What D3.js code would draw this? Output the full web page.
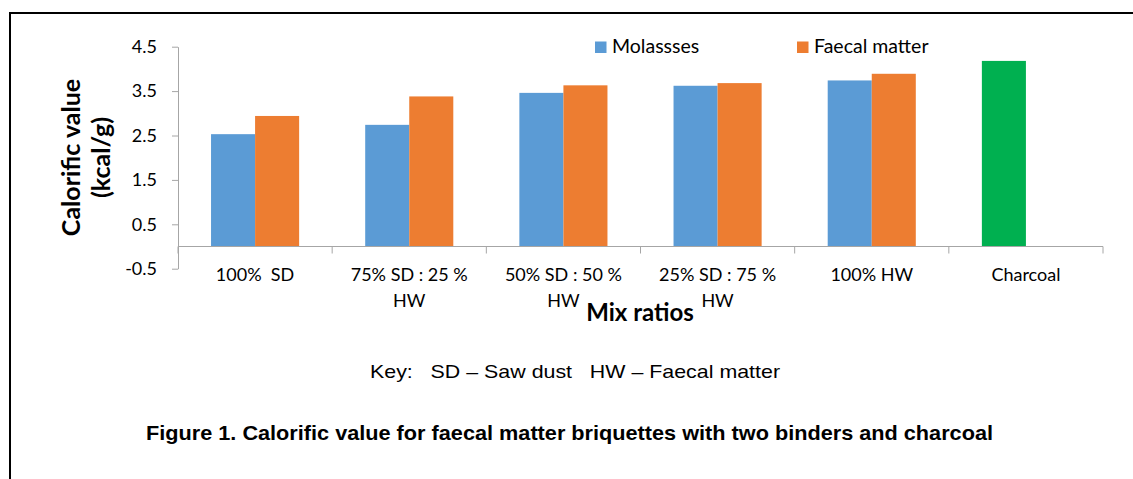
<!DOCTYPE html>
<html>
<head>
<meta charset="utf-8">
<script src="https://cdn.jsdelivr.net/npm/d3@7/dist/d3.min.js"></script>
<style>
  html, body { margin: 0; padding: 0; background: #fff; }
  svg { display: block; }
</style>
</head>
<body>
<svg id="chart" width="1133" height="479"></svg>
<script>
// ---- data ----
const categories = [["100%  SD"], ["75% SD : 25 %", "HW"], ["50% SD : 50 %", "HW"], ["25% SD : 75 %", "HW"], ["100% HW"], ["Charcoal"]];
const seriesNames = ["Molassses", "Faecal matter"];
const molasses = [2.53, 2.74, 3.46, 3.62, 3.74, null];
const faecal = [2.94, 3.38, 3.63, 3.68, 3.89, null];
const charcoal = [null, null, null, null, null, 4.18];
const yTicks = [-0.5, 0.5, 1.5, 2.5, 3.5, 4.5];
const colors = ["#5B9BD5", "#ED7D31"];
const charcoalColor = "#00B050";

const svg = d3.select("#chart");
const chartFont = "Lato, 'Open Sans', sans-serif";
const arial = "'Liberation Sans', Arial, sans-serif";

// border lines
svg.append("line").attr("x1", 10).attr("x2", 1133).attr("y1", 13).attr("y2", 13).attr("stroke", "#000").attr("stroke-width", 2);
svg.append("line").attr("x1", 10).attr("x2", 10).attr("y1", 12).attr("y2", 479).attr("stroke", "#000").attr("stroke-width", 2);

const x0 = d3.scaleBand().domain(d3.range(categories.length)).range([178, 1103]).padding(0);
const x1 = d3.scaleBand().domain([0, 1]).range([0, x0.bandwidth()]).paddingInner(0).paddingOuter(0.75);
const y = d3.scaleLinear().domain([-0.5, 4.5]).range([268.7, 46.7]);

const axisColor = "#a6a6a6";

// y axis
const yAxis = svg.append("g").attr("transform", "translate(178,0)")
  .call(d3.axisLeft(y).tickValues(yTicks).tickSize(6).tickSizeOuter(0).tickFormat(d => d.toFixed(1)));
yAxis.select(".domain").attr("stroke", axisColor);
yAxis.selectAll(".tick line").attr("stroke", axisColor);
yAxis.selectAll(".tick text").attr("font-family", chartFont).attr("font-size", 18).attr("fill", "#000").attr("x", -21);

// bars
const groups = svg.append("g");
const seriesData = [molasses, faecal];
seriesData.forEach((vals, si) => {
  groups.selectAll(".s" + si).data(vals.map((v, i) => ({v, i})).filter(d => d.v != null))
    .enter().append("rect")
    .attr("x", d => x0(d.i) + x1(si))
    .attr("width", x1.bandwidth())
    .attr("y", d => y(d.v))
    .attr("height", d => y(0) - y(d.v))
    .attr("fill", colors[si]);
});
groups.selectAll(".ch").data(charcoal.map((v, i) => ({v, i})).filter(d => d.v != null))
  .enter().append("rect")
  .attr("x", d => x0(d.i) + x1(0))
  .attr("width", x1.bandwidth())
  .attr("y", d => y(d.v))
  .attr("height", d => y(0) - y(d.v))
  .attr("fill", charcoalColor);

// x axis at zero
const xAxisG = svg.append("g").attr("transform", `translate(0,${y(0)})`);
xAxisG.append("line").attr("x1", 178).attr("x2", 1103).attr("stroke", axisColor);
const bounds = d3.range(categories.length + 1).map(i => i < categories.length ? x0(i) : x0(i - 1) + x0.bandwidth());
xAxisG.selectAll(".tk").data(bounds).enter().append("line")
  .attr("x1", d => d).attr("x2", d => d).attr("y1", 0).attr("y2", 7).attr("stroke", axisColor);

// category labels
categories.forEach((lines, i) => {
  const t = svg.append("text").attr("font-family", chartFont).attr("font-size", 18).attr("fill", "#000")
    .attr("text-anchor", "middle").attr("xml:space", "preserve");
  lines.forEach((ln, k) => {
    t.append("tspan").attr("x", x0(i) + x0.bandwidth() / 2).attr("y", 280.5 + k * 26).text(ln);
  });
});

// axis titles
svg.append("text").attr("x", 640).attr("y", 321).attr("text-anchor", "middle")
  .attr("font-family", chartFont).attr("font-weight", "bold").attr("font-size", 24).text("Mix ratios");

const yt = svg.append("text").attr("transform", "translate(0,157.5) rotate(-90)").attr("text-anchor", "middle")
  .attr("font-family", chartFont).attr("font-weight", "bold").attr("font-size", 25);
yt.append("tspan").attr("x", 0).attr("y", 80).text("Calorific value");
yt.append("tspan").attr("x", 0).attr("y", 110).text("(kcal/g)");

// legend
const legendX = [595, 797];
seriesNames.forEach((name, i) => {
  svg.append("rect").attr("x", legendX[i]).attr("y", 41.5).attr("width", 11.5).attr("height", 11.5).attr("fill", colors[i]);
  svg.append("text").attr("x", legendX[i] + 17).attr("y", 52.7).attr("font-family", chartFont)
    .attr("font-size", 19.5).attr("fill", "#000").text(name);
});

// key and caption
svg.append("text").attr("x", 575).attr("y", 377.5).attr("text-anchor", "middle").attr("xml:space", "preserve")
  .attr("font-family", arial).attr("font-size", 19)
  .attr("textLength", 410).attr("lengthAdjust", "spacingAndGlyphs")
  .text("Key:   SD \u2013 Saw dust   HW \u2013 Faecal matter");
svg.append("text").attr("x", 569.5).attr("y", 440).attr("text-anchor", "middle")
  .attr("font-family", arial).attr("font-weight", "bold").attr("font-size", 20.5)
  .attr("textLength", 847).attr("lengthAdjust", "spacingAndGlyphs")
  .text("Figure 1. Calorific value for faecal matter briquettes with two binders and charcoal");
</script>
</body>
</html>
